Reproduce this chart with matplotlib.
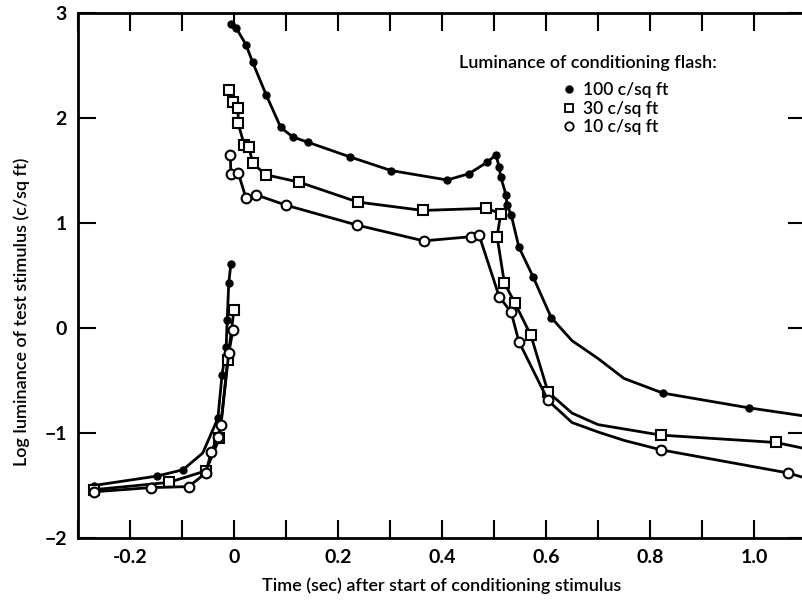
import matplotlib.pyplot as plt
from matplotlib.lines import Line2D

# readings from the figure: time (sec) vs log luminance (c/sq ft)
# mark = 1 for a plotted data point, 0 for a point read off the drawn curve only
# 100 c/sq ft, before the flash
t100_pre = [-0.27, -0.148, -0.098, -0.06, -0.031, -0.023, -0.015, -0.013, -0.01, -0.006]
y100_pre = [-1.50, -1.41, -1.35, -1.19, -0.86, -0.45, -0.18, 0.08, 0.43, 0.61]
m100_pre = [1, 1, 1, 0, 1, 1, 1, 1, 1, 1]
# 100 c/sq ft, after the flash
t100 = [-0.006, 0.004, 0.023, 0.036, 0.062, 0.09, 0.113, 0.142, 0.223, 0.302,
        0.41, 0.452, 0.487, 0.504, 0.51, 0.513, 0.523, 0.525, 0.533, 0.548,
        0.575, 0.61, 0.65, 0.70, 0.75, 0.825, 0.99, 1.10]
y100 = [2.90, 2.86, 2.70, 2.53, 2.22, 1.91, 1.82, 1.77, 1.63, 1.50,
        1.41, 1.47, 1.58, 1.65, 1.53, 1.44, 1.27, 1.17, 1.08, 0.77,
        0.49, 0.10, -0.12, -0.29, -0.48, -0.62, -0.76, -0.84]
m100 = [1] * 22 + [0, 0, 0, 1, 1, 0]

t30_pre = [-0.27, -0.125, -0.054, -0.028, -0.012, 0.0]
y30_pre = [-1.54, -1.47, -1.36, -1.05, -0.30, 0.17]
m30_pre = [1, 1, 1, 1, 1, 1]
t30 = [-0.009, -0.002, 0.008, 0.008, 0.02, 0.029, 0.036, 0.061, 0.125, 0.238,
       0.363, 0.485, 0.513, 0.506, 0.52, 0.54, 0.571, 0.604, 0.65, 0.70,
       0.821, 1.042, 1.10]
y30 = [2.27, 2.15, 2.10, 1.95, 1.74, 1.72, 1.57, 1.46, 1.39, 1.20,
       1.12, 1.14, 1.09, 0.87, 0.43, 0.24, -0.07, -0.61, -0.81, -0.92,
       -1.02, -1.09, -1.15]
m30 = [1] * 18 + [0, 0, 1, 1, 0]

t10_pre = [-0.27, -0.16, -0.087, -0.054, -0.044, -0.031, -0.025, -0.01, -0.002]
y10_pre = [-1.56, -1.52, -1.51, -1.38, -1.18, -1.04, -0.92, -0.24, -0.02]
m10_pre = [1, 1, 1, 1, 1, 1, 1, 1, 1]
t10 = [-0.007, -0.006, 0.008, 0.023, 0.042, 0.1, 0.237, 0.365, 0.456, 0.471,
       0.51, 0.533, 0.548, 0.604, 0.65, 0.70, 0.75, 0.821, 1.065, 1.10]
y10 = [1.65, 1.47, 1.48, 1.24, 1.27, 1.17, 0.98, 0.83, 0.87, 0.89,
       0.30, 0.15, -0.13, -0.69, -0.90, -0.99, -1.07, -1.16, -1.38, -1.43]
m10 = [1] * 14 + [0, 0, 0, 1, 1, 0]

xticks = [-0.3, -0.2, -0.1, 0, 0.1, 0.2, 0.3, 0.4, 0.5, 0.6, 0.7, 0.8, 0.9, 1.0, 1.1]
xlabels = ['', '-0.2', '', '0', '', '0.2', '', '0.4', '', '0.6', '', '0.8', '', '1.0', '']
yticks = [-2, -1, 0, 1, 2, 3]
ylabels = ['\u22122', '\u22121', '0', '1', '2', '3']

plt.rcParams['font.family'] = ['Lato', 'DejaVu Sans']

fig = plt.figure(figsize=(8.03, 6.01), dpi=100)
ax = fig.add_axes([0.0971, 0.1048, 0.9066, 0.8735])

filled = dict(color='black', lw=2, marker='o', ms=5, mfc='black', mec='black')
square = dict(color='black', lw=2, marker='s', ms=7, mfc='white', mec='black', mew=1.5)
circle = dict(color='black', lw=2, marker='o', ms=7, mfc='white', mec='black', mew=1.5)


def draw(t, y, m, style):
    idx = [i for i, v in enumerate(m) if v]
    ax.plot(t, y, markevery=idx, **style)


draw(t100_pre, y100_pre, m100_pre, filled)
draw(t100, y100, m100, filled)
draw(t30_pre, y30_pre, m30_pre, square)
draw(t30, y30, m30, square)
draw(t10_pre, y10_pre, m10_pre, circle)
draw(t10, y10, m10, circle)

ax.set_xlim(-0.3, 1.1)
ax.set_ylim(-2, 3)
ax.set_xticks(xticks)
ax.set_xticklabels(xlabels, fontsize=14, fontweight='bold')
ax.set_yticks(yticks)
ax.set_yticklabels(ylabels, fontsize=14, fontweight='bold')
ax.tick_params(direction='in', length=13, width=1.5, top=True, right=True, pad=8)
for s in ax.spines.values():
    s.set_linewidth(2)
ax.spines['right'].set_visible(False)

ax.set_xlabel('Time (sec) after start of conditioning stimulus', fontsize=13,
              fontweight='semibold', labelpad=8)
ax.set_ylabel('Log luminance of test stimulus (c/sq ft)', fontsize=13,
              fontweight='semibold', y=0.43, labelpad=10)

ax.text(0.70, 0.905, 'Luminance of conditioning flash:', transform=ax.transAxes,
        ha='center', va='center', fontsize=13, fontweight='semibold')
handles = [Line2D([], [], ls='none', marker='o', ms=5, color='black'),
           Line2D([], [], ls='none', marker='s', ms=6, mfc='white', mec='black', mew=1.3),
           Line2D([], [], ls='none', marker='o', ms=6, mfc='white', mec='black', mew=1.3)]
ax.legend(handles, ['100 c/sq ft', '30 c/sq ft', '10 c/sq ft'], frameon=False,
          loc='upper left', bbox_to_anchor=(0.655, 0.885), handlelength=0.6,
          handletextpad=0.5, labelspacing=0.15, borderpad=0,
          prop={'size': 12.5, 'weight': 'semibold'})

plt.savefig('out.png', dpi=100)
